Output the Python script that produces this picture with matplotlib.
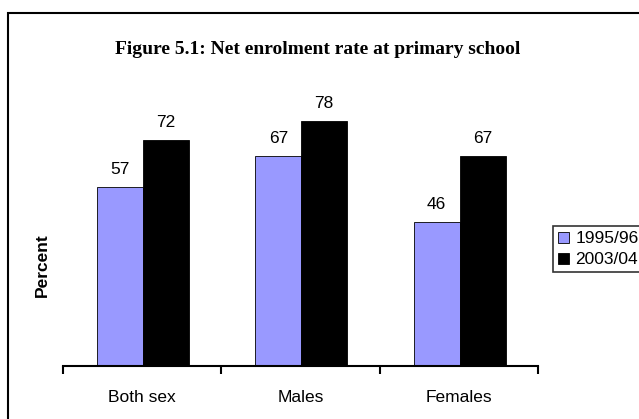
import matplotlib
matplotlib.use("Agg")
import matplotlib.pyplot as plt
from matplotlib.patches import Rectangle, Patch
import numpy as np

categories = ["Both sex", "Males", "Females"]
series_names = ["1995/96", "2003/04"]
values_1995 = [57, 67, 46]
values_2003 = [72, 78, 67]
colors = ["#9999FF", "#000000"]

W, H, DPI = 639, 419, 100
fig = plt.figure(figsize=(W / DPI, H / DPI), dpi=DPI)

# outer chart border (extends beyond the right/bottom edges)
fig.add_artist(Rectangle((8 / W, -0.05), 1.2, (419 - 13) / H + 0.05,
                         transform=fig.transFigure, fill=False,
                         edgecolor="black", linewidth=1.5))

ax = fig.add_axes([63 / W, (419 - 366) / H, 475 / W, 314 / H])
x = np.arange(len(categories))
bw = 0.29
ax.bar(x - 0.14, values_1995, bw, color=colors[0], edgecolor="black",
       linewidth=0.6, label=series_names[0])
ax.bar(x + 0.15, values_2003, bw, color=colors[1], edgecolor="black",
       linewidth=0.6, label=series_names[1])
for xi, v in zip(x, values_1995):
    ax.text(xi - 0.14, v + 3.2, str(v), ha="center", va="bottom",
            fontsize=12.5, family="Liberation Sans")
for xi, v in zip(x, values_2003):
    ax.text(xi + 0.15, v + 3.2, str(v), ha="center", va="bottom",
            fontsize=12.5, family="Liberation Sans")

ax.set_xlim(-0.5, 2.5)
ax.set_ylim(0, 100)
for s in ["top", "right", "left"]:
    ax.spines[s].set_visible(False)
ax.spines["bottom"].set_linewidth(1.5)
ax.set_yticks([])
ax.set_xticks([-0.5, 0.5, 1.5, 2.5])
ax.set_xticklabels([])
ax.tick_params(axis="x", which="major", direction="out", length=6, width=1.5)
ax.set_xticks(x, minor=True)
ax.set_xticklabels(categories, minor=True, fontsize=12.5, family="Liberation Sans")
ax.tick_params(axis="x", which="minor", length=0, pad=17)

fig.text(42 / W, 1 - 265 / H, "Percent", rotation=90, ha="center", va="center",
         fontsize=12.5, fontweight="bold", family="Liberation Sans")
fig.text(318 / W, 1 - 50 / H, "Figure 5.1: Net enrolment rate at primary school",
         ha="center", va="center", fontsize=14, fontweight="bold",
         family="Liberation Serif")

handles = [Patch(facecolor=colors[0], edgecolor="black", linewidth=0.6),
           Patch(facecolor=colors[1], edgecolor="black", linewidth=0.6)]
leg = fig.legend(handles, series_names, loc="upper left",
                 bbox_to_anchor=(553 / W, 1 - 226 / H),
                 prop={"family": "Liberation Sans", "size": 12.5},
                 handlelength=0.6, handleheight=0.6, handletextpad=0.4,
                 borderpad=0.3, labelspacing=0.35, fancybox=False,
                 frameon=True, borderaxespad=0)
leg.get_frame().set_edgecolor("black")
leg.get_frame().set_linewidth(1.2)

fig.savefig("out.png", dpi=DPI)
